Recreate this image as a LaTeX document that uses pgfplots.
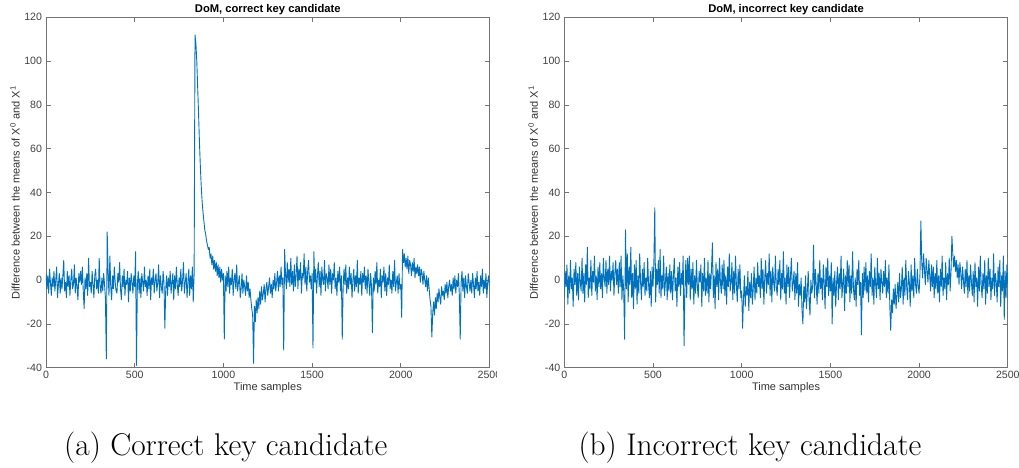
\documentclass[border=0pt]{standalone}
\usepackage{pgfplots}
\pgfplotsset{compat=1.18}
\usepackage{pgfplotstable}
\usepackage{fontspec}
\newfontfamily\helv{Liberation Sans}
\definecolor{mblue}{rgb}{0,0.447,0.741}

% correct key candidate, one value every 5 samples (0..2500)
\pgfplotstableread[row sep=\\]{y\\
3\\-4\\2\\-6\\5\\-1\\-7\\1\\-3\\4\\-5\\0\\6\\-8\\-2\\3\\-6\\1\\-4\\2\\
9\\-5\\-1\\-8\\4\\-3\\2\\-7\\0\\5\\-4\\-2\\7\\-6\\1\\-3\\-9\\3\\-1\\4\\
-2\\6\\-5\\-13\\1\\-4\\3\\-7\\10\\-3\\-1\\-6\\4\\-2\\-8\\2\\5\\-4\\0\\-6\\
10\\-3\\-6\\1\\-5\\3\\-2\\-8\\-36\\22\\4\\-7\\11\\-3\\-9\\2\\-4\\6\\-1\\-5\\
-6\\3\\-1\\8\\-4\\-9\\2\\-3\\5\\-7\\0\\-2\\4\\-10\\1\\-5\\3\\-1\\-6\\2\\
-3\\13\\-39\\-2\\4\\-6\\1\\-8\\3\\-1\\-5\\6\\-3\\0\\-7\\2\\-4\\5\\-9\\1\\
-2\\5\\-6\\0\\3\\-5\\-1\\7\\-8\\2\\-3\\-6\\4\\-1\\-22\\-4\\2\\-7\\1\\-3\\
4\\-6\\-1\\3\\-9\\2\\-4\\6\\-2\\-7\\1\\-3\\5\\-5\\0\\8\\-6\\-1\\3\\-8\\
-1\\5\\-7\\2\\-4\\6\\-10\\3\\112\\108\\100\\88\\76\\63\\52\\43\\36\\31\\27\\23\\
21\\18\\16\\14\\15\\10\\12\\7\\11\\5\\9\\4\\8\\2\\7\\1\\6\\-1\\5\\0\\
3\\-27\\2\\-5\\4\\-3\\6\\-6\\1\\-2\\5\\-7\\0\\3\\-4\\7\\-5\\-1\\2\\-8\\
-4\\3\\-6\\0\\-3\\-7\\2\\-5\\-1\\-8\\-4\\-9\\-13\\-16\\-38\\-12\\-19\\-9\\-15\\-8\\
-13\\-5\\-11\\-3\\-9\\-6\\-2\\-10\\-4\\-1\\-7\\-3\\1\\-6\\-2\\-8\\0\\-4\\3\\-5\\
-1\\4\\-5\\2\\-3\\6\\-2\\1\\-32\\14\\3\\-4\\8\\-1\\5\\-3\\10\\-2\\4\\-5\\
7\\-3\\2\\11\\-4\\5\\0\\8\\-6\\3\\1\\12\\-2\\6\\-5\\4\\9\\-1\\2\\-4\\
3\\-31\\13\\-1\\5\\-6\\2\\8\\-3\\4\\-7\\6\\0\\-2\\9\\-5\\3\\1\\-4\\7\\
-2\\5\\-6\\3\\0\\8\\-4\\1\\-7\\4\\-1\\6\\-5\\2\\-27\\-3\\5\\-2\\7\\-6\\
1\\-4\\6\\-2\\3\\-8\\0\\5\\-5\\2\\-3\\9\\-6\\1\\-2\\4\\-7\\3\\-1\\6\\
-4\\2\\-6\\5\\-1\\-7\\3\\-3\\-24\\1\\-5\\4\\-2\\8\\-6\\0\\-3\\5\\-8\\2\\
-1\\6\\-5\\3\\-7\\1\\-2\\7\\-4\\0\\-6\\4\\-3\\9\\-5\\-1\\2\\-6\\3\\-4\\
-2\\-17\\14\\8\\12\\6\\10\\5\\11\\3\\9\\7\\2\\8\\4\\10\\1\\6\\3\\7\\
2\\6\\-1\\5\\3\\-2\\4\\0\\-3\\2\\-5\\1\\-4\\-9\\-12\\-26\\-15\\-10\\-16\\-8\\
-13\\-6\\-10\\-4\\-8\\-11\\-3\\-7\\-5\\-9\\-2\\-6\\-1\\-8\\-3\\0\\-5\\-2\\-7\\1\\
-4\\2\\-6\\0\\-3\\3\\-7\\-27\\-1\\4\\-5\\1\\-8\\2\\-3\\-6\\3\\-1\\-5\\0\\
-6\\3\\-2\\-8\\1\\-4\\4\\-5\\-1\\-7\\2\\-3\\5\\-6\\0\\-4\\3\\-8\\-1\\2\\
-3\\
}\tabA

% incorrect key candidate, one value every 5 samples (0..2500)
\pgfplotstableread[row sep=\\]{y\\
-8\\4\\-3\\7\\-11\\2\\-6\\9\\-4\\1\\-12\\5\\-2\\8\\-7\\3\\-9\\6\\-1\\-5\\
10\\-6\\3\\-10\\7\\-2\\15\\-8\\1\\-4\\9\\-7\\4\\-1\\11\\-5\\2\\-9\\6\\-3\\
8\\-4\\3\\-8\\10\\1\\-3\\9\\-6\\5\\-2\\11\\-5\\4\\0\\8\\-7\\3\\9\\-2\\
5\\-6\\8\\-3\\11\\-9\\2\\-5\\-27\\23\\-4\\12\\-10\\6\\-2\\15\\-8\\3\\-13\\7\\
-4\\9\\-11\\2\\-6\\12\\-1\\-9\\5\\-3\\8\\-7\\1\\-5\\10\\-2\\-8\\4\\-12\\6\\
-3\\8\\33\\-10\\5\\-2\\9\\-6\\14\\-8\\2\\-4\\11\\-7\\-1\\6\\-9\\3\\-5\\7\\
-6\\4\\-9\\2\\10\\-5\\1\\-12\\6\\-3\\8\\-7\\3\\-2\\11\\-30\\-4\\9\\-8\\10\\
-2\\11\\-9\\5\\-4\\8\\-11\\2\\-6\\9\\-3\\-8\\4\\-1\\7\\-12\\3\\-5\\10\\-7\\
1\\-6\\9\\-10\\3\\-4\\6\\17\\-8\\2\\-13\\8\\-3\\5\\-9\\10\\-1\\-6\\7\\-4\\
9\\-7\\2\\-11\\6\\-3\\12\\-5\\-1\\8\\-9\\4\\-6\\11\\-2\\-10\\5\\-4\\7\\-8\\
-5\\-22\\-9\\2\\-12\\-3\\-7\\4\\-14\\-1\\-8\\3\\-11\\-4\\6\\-9\\1\\-6\\8\\-3\\
2\\-8\\10\\-4\\5\\-11\\1\\9\\-6\\3\\-2\\12\\-7\\4\\-10\\6\\-1\\-5\\11\\-3\\
-7\\5\\-2\\9\\-9\\3\\-4\\13\\-6\\1\\-11\\7\\-3\\6\\-8\\2\\10\\-5\\-1\\4\\
-9\\3\\-6\\8\\-12\\-2\\-7\\1\\-14\\-20\\-3\\-10\\2\\-13\\-5\\4\\-9\\-16\\0\\-6\\
-3\\16\\-8\\5\\-2\\-11\\3\\-6\\9\\-4\\1\\-9\\7\\-1\\-13\\6\\-3\\10\\-7\\2\\
-5\\8\\-20\\1\\-7\\4\\-12\\-1\\6\\-9\\3\\-4\\11\\-8\\-2\\5\\-14\\2\\-6\\9\\
-3\\7\\-10\\2\\-6\\13\\-4\\-9\\1\\-12\\5\\-2\\9\\-7\\-1\\-25\\3\\-8\\6\\-5\\
8\\-6\\2\\-10\\4\\-3\\12\\-7\\1\\-11\\6\\-2\\-8\\10\\-4\\3\\-9\\5\\-1\\-6\\
4\\-3\\9\\-8\\1\\-6\\7\\-12\\-23\\-9\\-15\\-4\\-11\\-2\\-13\\-7\\-1\\-10\\3\\-8\\
-4\\6\\-11\\1\\-7\\9\\-3\\-9\\4\\-1\\-12\\7\\-5\\2\\-8\\10\\-2\\-6\\5\\-3\\
-6\\3\\27\\8\\1\\12\\5\\-2\\10\\4\\-1\\9\\2\\-5\\7\\-3\\6\\-8\\3\\-4\\
9\\-6\\2\\-10\\5\\-3\\11\\-7\\1\\-4\\8\\-9\\3\\-2\\10\\-5\\4\\20\\12\\6\\
11\\4\\9\\1\\7\\-2\\8\\3\\-4\\6\\0\\-6\\5\\-3\\9\\-8\\2\\-5\\7\\-1\\
-7\\4\\-10\\8\\-3\\1\\-12\\6\\-5\\11\\-2\\-8\\3\\-4\\9\\-11\\2\\-6\\10\\-3\\
5\\-9\\1\\-4\\12\\-7\\3\\-1\\-10\\6\\-3\\9\\-12\\2\\-5\\11\\-18\\4\\-8\\7\\
-2\\
}\tabB

\pgfplotsset{mstyle/.style={
  scale only axis, width=221.75pt, height=175.2pt,
  xmin=0, xmax=2500, ymin=-40, ymax=120,
  xtick={0,500,1000,1500,2000,2500},
  xticklabels={0,500,1000,1500,2000,2500},
  ytick={-40,-20,0,20,40,60,80,100,120},
  yticklabels={-40,-20,0,20,40,60,80,100,120},
  /pgf/number format/assume math mode=true,
  tick align=inside, major tick length=2.3pt,
  axis line style={draw=black!55, line width=0.35pt},
  every tick/.style={draw=black!55, line width=0.35pt},
  tick label style={font=\helv\fontsize{5.3}{6}\selectfont, text=black!75},
  xticklabel style={inner sep=1.6pt},
  yticklabel style={inner sep=1.8pt},
  xlabel={Time samples},
  ylabel={Difference between the means of X\textsuperscript{0} and X\textsuperscript{1}},
  label style={font=\helv\fontsize{5.5}{6.5}\selectfont, text=black!80},
  xlabel style={at={(axis description cs:0.5,-0.058)}, anchor=center},
  ylabel style={at={(axis description cs:-0.07,0.5)}, anchor=center},
  every axis title shift=0pt,
  title style={font=\helv\bfseries\fontsize{5.6}{6.5}\selectfont, at={(axis description cs:0.5,1.022)}, anchor=center},
  clip=true,
}}

\begin{document}
\begin{tikzpicture}
\path[use as bounding box] (0,0) rectangle (509.5pt,233.5pt);

\begin{axis}[mstyle, at={(23pt,49.65pt)}, anchor=south west,
  title={DoM, correct key candidate}]
\addplot[mblue, line width=0.45pt, line join=round, no markers]
  table[x expr=\coordindex*5, y=y]{\tabA};
\end{axis}

\fill[white] (248.5pt,36pt) rectangle (262pt,53pt);

\begin{axis}[mstyle, at={(282.15pt,49.65pt)}, anchor=south west,
  title={DoM, incorrect key candidate}]
\addplot[mblue, line width=0.45pt, line join=round, no markers]
  table[x expr=\coordindex*5, y=y]{\tabB};
\end{axis}

\node[anchor=base, font=\fontsize{15.7}{18}\selectfont] at (112.9pt,6pt) {(a) Correct key candidate};
\node[anchor=base, font=\fontsize{15.7}{18}\selectfont] at (375pt,6pt) {(b) Incorrect key candidate};
\end{tikzpicture}
\end{document}
